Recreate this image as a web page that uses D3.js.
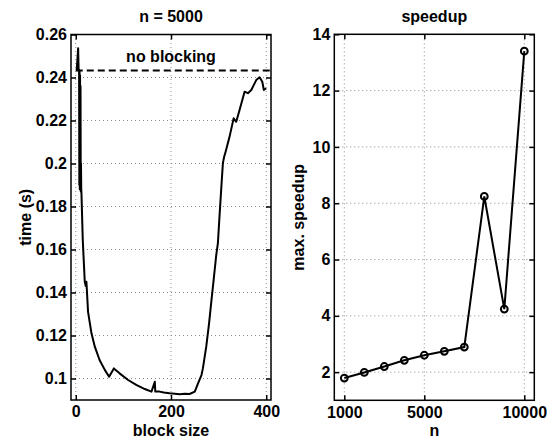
<!DOCTYPE html>
<html>
<head>
<meta charset="utf-8">
<script src="https://cdn.jsdelivr.net/npm/d3@7"></script>
<style>
  html, body { margin: 0; padding: 0; background: #fff; }
  svg text { font-family: "Liberation Sans", Arial, Helvetica, sans-serif; font-weight: bold; fill: #000; }
</style>
</head>
<body>
<svg id="chart" width="555" height="441"></svg>
<script>
// ---- Left panel data (n = 5000) ----
const blockSize = [2, 5, 6, 7, 7.5, 8, 8.5, 9, 9.5, 10, 10.5, 11, 11.5, 12, 14.7, 18.9, 21, 22.4, 23.7, 25.8, 33, 40, 50, 61, 70, 80, 92, 110, 127, 145, 159, 166, 167, 176, 185, 197, 208, 218, 229, 239, 250, 257, 264, 267, 274, 280, 285, 289.5, 295, 298.5, 302, 306, 309, 311.5, 314.7, 323, 331.5, 337, 344, 354.5, 361.5, 368.6, 379, 386, 391.7, 395, 400];
const timeSec   = [0.2435, 0.2536, 0.2435, 0.2435, 0.19, 0.243, 0.188, 0.241, 0.19, 0.236, 0.187, 0.2, 0.188, 0.186, 0.1644, 0.145, 0.143, 0.145, 0.1396, 0.131, 0.121, 0.1148, 0.1086, 0.104, 0.1008, 0.1047, 0.1024, 0.0993, 0.0970, 0.0951, 0.0939, 0.0985, 0.0939, 0.0939, 0.0935, 0.0931, 0.0929, 0.0927, 0.0929, 0.0928, 0.0939, 0.0978, 0.1016, 0.1047, 0.1148, 0.1257, 0.1365, 0.1458, 0.1574, 0.163, 0.176, 0.190, 0.2002, 0.203, 0.2055, 0.2125, 0.221, 0.2194, 0.2249, 0.2334, 0.2327, 0.2342, 0.2388, 0.2401, 0.2380, 0.2342, 0.2350];
const noBlockingTime = 0.2432;
const leftXTicks = [0, 200, 400];
const leftYTicks = [0.1, 0.12, 0.14, 0.16, 0.18, 0.2, 0.22, 0.24, 0.26];

// ---- Right panel data (speedup) ----
const nValues = [1000, 2000, 3000, 4000, 5000, 6000, 7000, 8000, 9000, 10000];
const maxSpeedup = [1.79, 1.99, 2.2, 2.42, 2.6, 2.74, 2.89, 8.24, 4.24, 13.4];
const rightXTicks = [1000, 5000, 10000];
const rightYTicks = [2, 4, 6, 8, 10, 12, 14];

const FS = "16px";
const svg = d3.select("#chart");

function panel(opts) {
  const g = svg.append("g");
  const [x0, x1] = opts.x.range();
  const [y0, y1] = opts.y.range(); // y0 bottom, y1 top
  // grid
  g.selectAll(".gx").data(opts.xTicks).join("line")
    .attr("x1", d => opts.x(d)).attr("x2", d => opts.x(d))
    .attr("y1", y0).attr("y2", y1)
    .attr("stroke", "#8a8a8a").attr("stroke-width", 1).attr("stroke-dasharray", "1,3");
  g.selectAll(".gy").data(opts.yTicks).join("line")
    .attr("y1", d => opts.y(d)).attr("y2", d => opts.y(d))
    .attr("x1", x0).attr("x2", x1)
    .attr("stroke", "#8a8a8a").attr("stroke-width", 1).attr("stroke-dasharray", "1,3");

  // axes (ticks inward)
  const ax = g.append("g").attr("transform", `translate(0,${y0})`)
    .call(d3.axisBottom(opts.x).tickValues(opts.xTicks).tickFormat(opts.xFmt).tickSize(-5).tickPadding(6));
  const axT = g.append("g").attr("transform", `translate(0,${y1})`)
    .call(d3.axisTop(opts.x).tickValues(opts.xTicks).tickFormat("").tickSize(-5));
  const ay = g.append("g").attr("transform", `translate(${x0},0)`)
    .call(d3.axisLeft(opts.y).tickValues(opts.yTicks).tickFormat(opts.yFmt).tickSize(-5).tickPadding(4));
  const ayR = g.append("g").attr("transform", `translate(${x1},0)`)
    .call(d3.axisRight(opts.y).tickValues(opts.yTicks).tickFormat("").tickSize(-5));
  [ax, axT, ay, ayR].forEach(a => {
    a.select(".domain").remove();
    a.selectAll(".tick line").attr("stroke", "#000").attr("stroke-width", 1.5);
    a.selectAll(".tick text").style("font-size", FS).style("font-family", '"Liberation Sans", Arial, sans-serif').style("font-weight", "bold");
  });
  ax.selectAll(".tick text").attr("dy", "0.71em");

  // box
  g.append("rect").attr("x", x0).attr("y", y1).attr("width", x1 - x0).attr("height", y0 - y1)
    .attr("fill", "none").attr("stroke", "#000").attr("stroke-width", 1.5);

  // title and labels
  g.append("text").attr("x", (x0 + x1) / 2).attr("y", 22).attr("text-anchor", "middle")
    .style("font-size", FS).text(opts.title);
  g.append("text").attr("x", (x0 + x1) / 2).attr("y", 436).attr("text-anchor", "middle")
    .style("font-size", FS).text(opts.xLabel);
  g.append("text").attr("transform", `translate(${opts.yLabelX},${(y0 + y1) / 2}) rotate(-90)`)
    .attr("text-anchor", "middle").style("font-size", FS).text(opts.yLabel);
  return g;
}

// Left panel
const xL = d3.scaleLinear().domain([-10, 410]).range([71, 271]);
const yL = d3.scaleLinear().domain([0.09, 0.26]).range([400, 34.5]);
const gL = panel({ x: xL, y: yL, xTicks: leftXTicks, yTicks: leftYTicks,
  xFmt: d3.format("d"), yFmt: d => String(+d.toFixed(2)),
  title: "n = 5000", xLabel: "block size", yLabel: "time (s)", yLabelX: 31 });

gL.append("line")
  .attr("x1", xL(0)).attr("x2", xL(410))
  .attr("y1", yL(noBlockingTime)).attr("y2", yL(noBlockingTime))
  .attr("stroke", "#000").attr("stroke-width", 2).attr("stroke-dasharray", "7,4");
gL.append("text").attr("x", xL(200)).attr("y", 62).attr("text-anchor", "middle")
  .style("font-size", FS).text("no blocking");

const lineL = d3.line().x((d, i) => xL(blockSize[i])).y(d => yL(d));
gL.append("path").datum(timeSec).attr("d", lineL)
  .attr("fill", "none").attr("stroke", "#000").attr("stroke-width", 2).attr("stroke-linejoin", "round");

// Right panel
const xR = d3.scaleLinear().domain([500, 10500]).range([334.3, 534.3]);
const yR = d3.scaleLinear().domain([1, 14]).range([400.3, 34.3]);
const gR = panel({ x: xR, y: yR, xTicks: rightXTicks, yTicks: rightYTicks,
  xFmt: d3.format("d"), yFmt: d3.format("d"),
  title: "speedup", xLabel: "n", yLabel: "max. speedup", yLabelX: 304 });

const lineR = d3.line().x((d, i) => xR(nValues[i])).y(d => yR(d));
gR.append("path").datum(maxSpeedup).attr("d", lineR)
  .attr("fill", "none").attr("stroke", "#000").attr("stroke-width", 2);
gR.selectAll(".pt").data(maxSpeedup).join("circle")
  .attr("cx", (d, i) => xR(nValues[i])).attr("cy", d => yR(d)).attr("r", 3.4)
  .attr("fill", "none").attr("stroke", "#000").attr("stroke-width", 2);
</script>
</body>
</html>
